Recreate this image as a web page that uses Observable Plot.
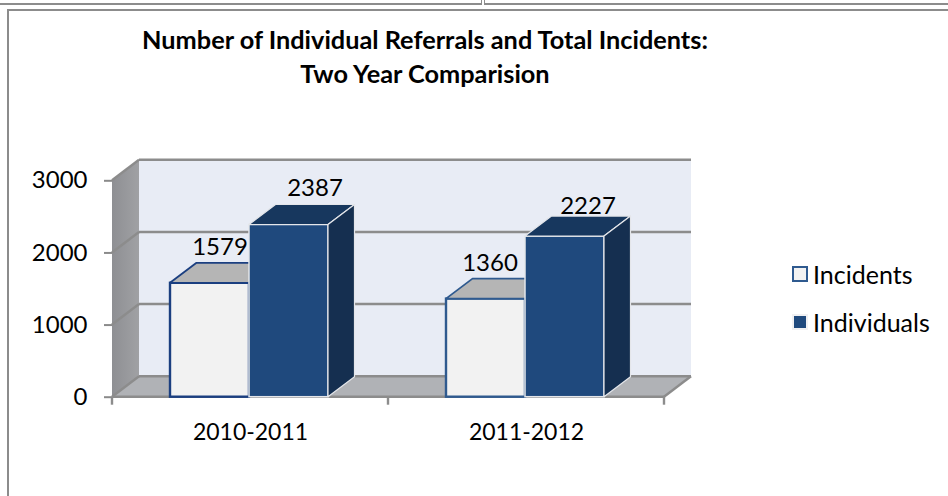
<!DOCTYPE html>
<html>
<head>
<meta charset="utf-8">
<script src="https://cdn.jsdelivr.net/npm/d3@7"></script>
<script src="https://cdn.jsdelivr.net/npm/@observablehq/plot@0.6"></script>
<style>
  html, body { margin: 0; padding: 0; background: #fff; }
  #page { position: relative; width: 948px; height: 496px; overflow: hidden; font-family: Lato, sans-serif; color: #000; }
  #chart { position: absolute; left: 0; top: 0; }
  .rule { position: absolute; background: #8c8c8c; }
  #title { position: absolute; left: 125px; width: 600px; top: 22px; text-align: center; font-weight: 700; font-size: 25.3px; line-height: 34px; }
  .legend { position: absolute; left: 792px; display: flex; align-items: center; font-size: 25px; height: 28px; }
  .swatch { width: 16px; height: 16px; box-sizing: border-box; margin-right: 5px; }
</style>
</head>
<body>
<div id="page">
  <div id="chart"></div>
  <div class="rule" style="left:0;top:3px;width:482px;height:2px"></div>
  <div class="rule" style="left:481px;top:0;width:1px;height:4px"></div>
  <div class="rule" style="left:484px;top:0;width:1px;height:4px"></div>
  <div class="rule" style="left:484px;top:3px;width:464px;height:2px"></div>
  <div class="rule" style="left:7px;top:9px;width:941px;height:2px"></div>
  <div class="rule" style="left:7px;top:9px;width:2px;height:487px"></div>
  <div id="title">Number of Individual Referrals and Total Incidents:<br>Two Year Comparision</div>
  <div class="legend" style="top:260px"><span class="swatch" style="background:#f2f2f2;border:2px solid #2f5a8f"></span>Incidents</div>
  <div class="legend" style="top:308px"><span class="swatch" style="background:#1f497d;border:2px solid #f0f0f2"></span>Individuals</div>
</div>
<script>
const years = ["2010-2011", "2011-2012"];
const seriesNames = ["Incidents", "Individuals"];
const incidents = [1579, 1360];
const individuals = [2387, 2227];
const yTicks = [0, 1000, 2000, 3000];

const rows = (name, vals) => years.map((year, i) => ({year, series: name, value: vals[i]}));
const incidentRows = rows(seriesNames[0], incidents);
const individualRows = rows(seriesNames[1], individuals);

// Styling constants: edge colours and the pixel depth of the 3D projection
const incidentEdges = ["#1b3f80", "#2f5a8f"];
const wallDX = 27, wallDY = 20.5, barDX = 26.5, barDY = 20;
const pts = (...p) => p.map(q => q.join(",")).join(" ");

function box(topFill, sideFill, stroke, sw) {
  return function (index, scales, values, dims, ctx, next) {
    const g = next(index, scales, values, dims, ctx);
    d3.select(g).selectAll("rect").each(function () {
      const r = d3.select(this);
      const x = +r.attr("x"), y = +r.attr("y"), w = +r.attr("width"), h = +r.attr("height");
      const parent = d3.select(this.parentNode);
      parent.append("polygon")
        .attr("points", pts([x, y], [x + w, y], [x + w + barDX, y - barDY], [x + barDX, y - barDY]))
        .attr("fill", topFill).attr("stroke", stroke).attr("stroke-width", sw).attr("stroke-linejoin", "round");
      parent.append("polygon")
        .attr("points", pts([x + w, y], [x + w + barDX, y - barDY], [x + w + barDX, y + h - barDY], [x + w, y + h]))
        .attr("fill", sideFill).attr("stroke", stroke).attr("stroke-width", sw).attr("stroke-linejoin", "round");
    });
    return g;
  };
}

function walls(index, scales, values, dims) {
  const g = d3.create("svg:g");
  const L = dims.marginLeft, R = dims.width - dims.marginRight;
  const y0 = scales.y(yTicks[0]), yTop = scales.y(yTicks[yTicks.length - 1]);
  const defs = g.append("defs");
  const grad = defs.append("linearGradient").attr("id", "sideWall").attr("x1", 0).attr("x2", 1).attr("y1", 0).attr("y2", 0);
  grad.append("stop").attr("offset", 0).attr("stop-color", "#8e8f93");
  grad.append("stop").attr("offset", 1).attr("stop-color", "#a0a1a4");
  g.append("rect").attr("x", L + wallDX).attr("y", yTop - wallDY).attr("width", R - L).attr("height", y0 - yTop).attr("fill", "#e8ecf5");
  g.append("polygon").attr("points", pts([L, yTop], [L + wallDX, yTop - wallDY], [L + wallDX, y0 - wallDY], [L, y0])).attr("fill", "url(#sideWall)");
  g.append("polygon").attr("points", pts([L, y0], [L + wallDX, y0 - wallDY], [R + wallDX, y0 - wallDY], [R, y0])).attr("fill", "#b0b2b6");
  const line = (x1, y1, x2, y2) => g.append("line").attr("x1", x1).attr("y1", y1).attr("x2", x2).attr("y2", y2)
    .attr("stroke", "#8c8c8c").attr("stroke-width", 2.4);
  for (const t of yTicks) {
    const y = scales.y(t);
    line(L, y, L + wallDX, y - wallDY);
    if (t > 0) line(L + wallDX, y - wallDY, R + wallDX, y - wallDY);
  }
  line(L + wallDX, y0 - wallDY, R + wallDX, y0 - wallDY);
  line(R, y0, R + wallDX, y0 - wallDY);
  line(L, y0, R, y0);
  const xs = years.map(d => scales.fx(d)).concat(R);
  for (const x of xs) line(x, y0, x, y0 + 8);
  return g.node();
}

const nudges = [[10, -27], [26, -28], [4, -27], [23, -21]];
const labelRows = [incidentRows[0], individualRows[0], incidentRows[1], individualRows[1]];

const chart = Plot.plot({
  width: 948,
  height: 496,
  marginLeft: 111,
  marginRight: 284,
  marginTop: 180.3,
  marginBottom: 99.3,
  style: {background: "transparent", fontFamily: "Lato, sans-serif"},
  fx: {domain: years, padding: 0, axis: null, label: null},
  x: {domain: seriesNames, paddingInner: 0, paddingOuter: 0.74, align: 0.49, axis: null, label: null},
  y: {domain: [0, 3000], axis: null, label: null},
  marks: [
    Plot.frame({facet: "super", stroke: "none", render: walls}),
    ...incidentRows.map((d, i) => Plot.barY([d], {fx: "year", x: "series", y: "value", fill: "#f2f2f2", stroke: incidentEdges[i], strokeWidth: 2.4,
      render: box("#b5b5b5", "#d0d0d0", incidentEdges[i], 1.8)})),
    Plot.barY(individualRows, {fx: "year", x: "series", y: "value", fill: "#1f497d", stroke: "#e4e6ea", strokeWidth: 1.5,
      render: box("#17375e", "#152f50", "#e4e6ea", 1.2)}),
    Plot.axisY({ticks: yTicks, tickFormat: d => String(d), anchor: "left", tickSize: 8, tickPadding: 17, stroke: "#8a8a8a", strokeWidth: 2, fill: "#000", fontSize: 24, label: null}),
    Plot.axisFx({anchor: "bottom", tickSize: 0, tickPadding: 26, fill: "#000", fontSize: 23, label: null}),
    ...labelRows.map((d, i) => Plot.text([d], {fx: "year", x: "series", y: "value", text: r => String(r.value), dx: nudges[i][0], dy: nudges[i][1] - 9, fontSize: 24, fill: "#000"}))
  ]
});
document.getElementById("chart").appendChild(chart);
</script>
</body>
</html>
